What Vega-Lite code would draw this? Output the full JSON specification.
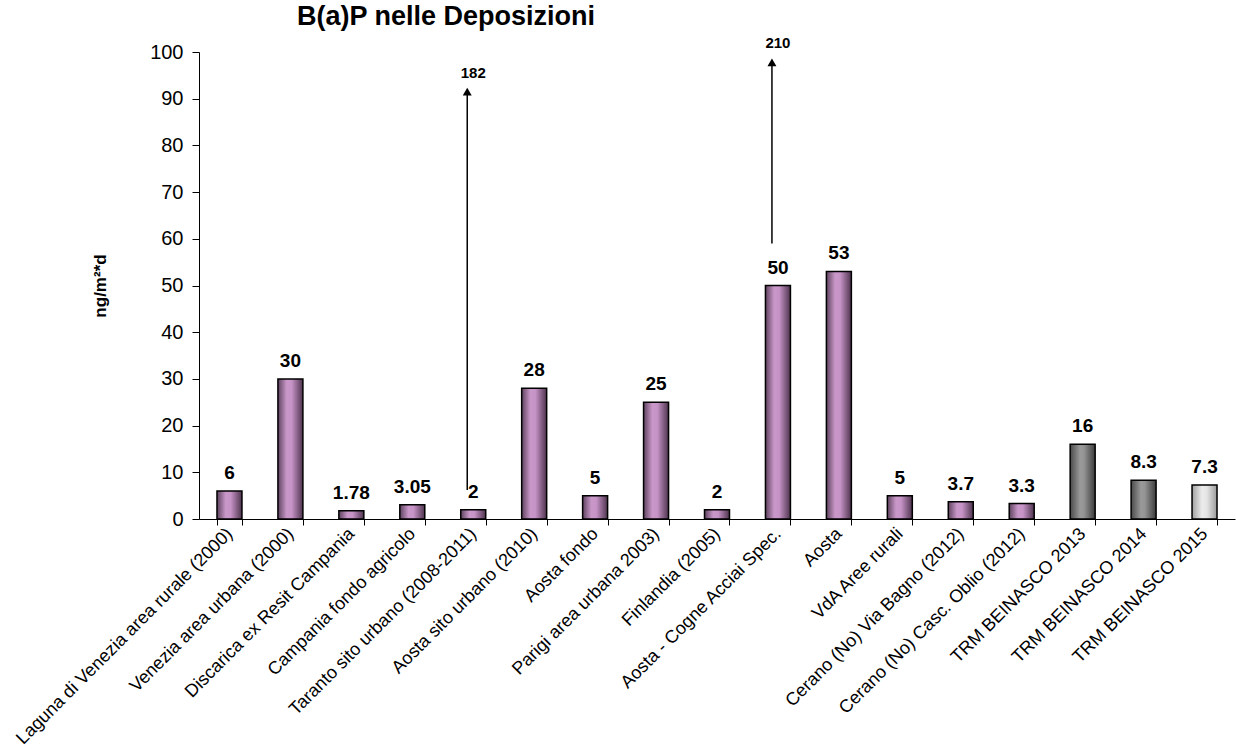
{
  "$schema": "https://vega.github.io/schema/vega-lite/v6.json",
  "width": 1036,
  "height": 467,
  "autosize": {"type": "none"},
  "padding": {"left": 199, "top": 52, "right": 1, "bottom": 232},
  "background": "white",
  "config": {"view": {"stroke": null}, "font": "Liberation Sans"},
  "title": {"text": "B(a)P nelle Deposizioni", "anchor": "start", "frame": "group", "dx": 98, "offset": 5, "fontSize": 27, "fontWeight": "bold", "font": "Liberation Sans", "color": "black"},
  "datasets": {
    "bars": [
      {"sito": "Laguna di Venezia area rurale (2000)", "valore": 6, "etichetta": "6", "serie": "lit"},
      {"sito": "Venezia area urbana (2000)", "valore": 30, "etichetta": "30", "serie": "lit"},
      {"sito": "Discarica ex Resit Campania", "valore": 1.78, "etichetta": "1.78", "serie": "lit"},
      {"sito": "Campania fondo agricolo", "valore": 3.05, "etichetta": "3.05", "serie": "lit"},
      {"sito": "Taranto sito urbano (2008-2011)", "valore": 2, "etichetta": "2", "serie": "lit"},
      {"sito": "Aosta sito urbano (2010)", "valore": 28, "etichetta": "28", "serie": "lit"},
      {"sito": "Aosta fondo", "valore": 5, "etichetta": "5", "serie": "lit"},
      {"sito": "Parigi area urbana 2003)", "valore": 25, "etichetta": "25", "serie": "lit"},
      {"sito": "Finlandia (2005)", "valore": 2, "etichetta": "2", "serie": "lit"},
      {"sito": "Aosta - Cogne Acciai Spec.", "valore": 50, "etichetta": "50", "serie": "lit"},
      {"sito": "Aosta", "valore": 53, "etichetta": "53", "serie": "lit"},
      {"sito": "VdA Aree rurali", "valore": 5, "etichetta": "5", "serie": "lit"},
      {"sito": "Cerano (No) Via Bagno (2012)", "valore": 3.7, "etichetta": "3.7", "serie": "lit"},
      {"sito": "Cerano (No) Casc. Oblio (2012)", "valore": 3.3, "etichetta": "3.3", "serie": "lit"},
      {"sito": "TRM BEINASCO 2013", "valore": 16, "etichetta": "16", "serie": "trm"},
      {"sito": "TRM BEINASCO 2014", "valore": 8.3, "etichetta": "8.3", "serie": "trm"},
      {"sito": "TRM BEINASCO 2015", "valore": 7.3, "etichetta": "7.3", "serie": "trm2015"}
    ],
    "frecce": [
      {"sito": "Taranto sito urbano (2008-2011)", "da": 6.2, "a": 91.5, "punta": 91.5, "pos_etichetta": 95.5, "etichetta": "182"},
      {"sito": "Aosta - Cogne Acciai Spec.", "da": 59, "a": 97.8, "punta": 97.8, "pos_etichetta": 102, "etichetta": "210"}
    ]
  },
  "encoding": {
    "x": {
      "field": "sito", "type": "nominal", "sort": null,
      "scale": {"paddingInner": 0.59, "paddingOuter": 0.295},
      "axis": {"title": null, "labelAngle": -45, "labelAlign": "right", "labelBaseline": "middle", "labelFontSize": 18, "labelFont": "Liberation Sans", "labelColor": "black", "labelPadding": 6, "tickBand": "extent", "tickSize": 6, "tickColor": "black", "domainColor": "black", "labelLimit": 0, "labelOverlap": false}
    }
  },
  "layer": [
    {
      "data": {"name": "bars"},
      "transform": [{"filter": "datum.serie == 'lit'"}],
      "mark": {"type": "bar", "stroke": "black", "strokeWidth": 1.5, "fill": {"gradient": "linear", "x1": 0, "y1": 0, "x2": 1, "y2": 0, "stops": [{"offset": 0, "color": "#5e425e"}, {"offset": 0.35, "color": "#c998c9"}, {"offset": 0.55, "color": "#c693c6"}, {"offset": 1, "color": "#4e344e"}]}},
      "encoding": {
        "y": {"field": "valore", "type": "quantitative", "scale": {"domain": [0, 100], "nice": false},
          "axis": {"title": "ng/m²*d", "titleFontSize": 17, "titleFontWeight": "bold", "titleFont": "Liberation Sans", "titleColor": "black", "titlePadding": 40, "values": [0, 10, 20, 30, 40, 50, 60, 70, 80, 90, 100], "grid": false, "labelFontSize": 20, "labelFont": "Liberation Sans", "labelColor": "black", "labelPadding": 9, "tickSize": 7, "tickColor": "black", "domainColor": "black"}}
      }
    },
    {
      "data": {"name": "bars"},
      "transform": [{"filter": "datum.serie == 'trm'"}],
      "mark": {"type": "bar", "stroke": "black", "strokeWidth": 1.5, "fill": {"gradient": "linear", "x1": 0, "y1": 0, "x2": 1, "y2": 0, "stops": [{"offset": 0, "color": "#4a4a4a"}, {"offset": 0.4, "color": "#9a9a9a"}, {"offset": 0.55, "color": "#949494"}, {"offset": 1, "color": "#3c3c3c"}]}},
      "encoding": {"y": {"field": "valore", "type": "quantitative"}}
    },
    {
      "data": {"name": "bars"},
      "transform": [{"filter": "datum.serie == 'trm2015'"}],
      "mark": {"type": "bar", "stroke": "black", "strokeWidth": 1.5, "fill": {"gradient": "linear", "x1": 0, "y1": 0, "x2": 1, "y2": 0, "stops": [{"offset": 0, "color": "#a0a0a0"}, {"offset": 0.4, "color": "#ececec"}, {"offset": 0.6, "color": "#e4e4e4"}, {"offset": 1, "color": "#9a9a9a"}]}},
      "encoding": {"y": {"field": "valore", "type": "quantitative"}}
    },
    {
      "data": {"name": "bars"},
      "mark": {"type": "text", "baseline": "bottom", "dy": -8, "fontSize": 19, "fontWeight": "bold", "font": "Liberation Sans", "color": "black"},
      "encoding": {"y": {"field": "valore", "type": "quantitative"}, "text": {"field": "etichetta"}}
    },
    {
      "data": {"name": "frecce"},
      "mark": {"type": "rule", "color": "black", "strokeWidth": 1.5, "xOffset": -6},
      "encoding": {"y": {"field": "da", "type": "quantitative"}, "y2": {"field": "a"}}
    },
    {
      "data": {"name": "frecce"},
      "mark": {"type": "point", "shape": "triangle-up", "filled": true, "color": "black", "opacity": 1, "size": 80, "xOffset": -6},
      "encoding": {"y": {"field": "punta", "type": "quantitative"}}
    },
    {
      "data": {"name": "frecce"},
      "mark": {"type": "text", "fontSize": 15, "fontWeight": "bold", "font": "Liberation Sans", "color": "black", "baseline": "middle"},
      "encoding": {"y": {"field": "pos_etichetta", "type": "quantitative"}, "text": {"field": "etichetta"}}
    }
  ]
}
